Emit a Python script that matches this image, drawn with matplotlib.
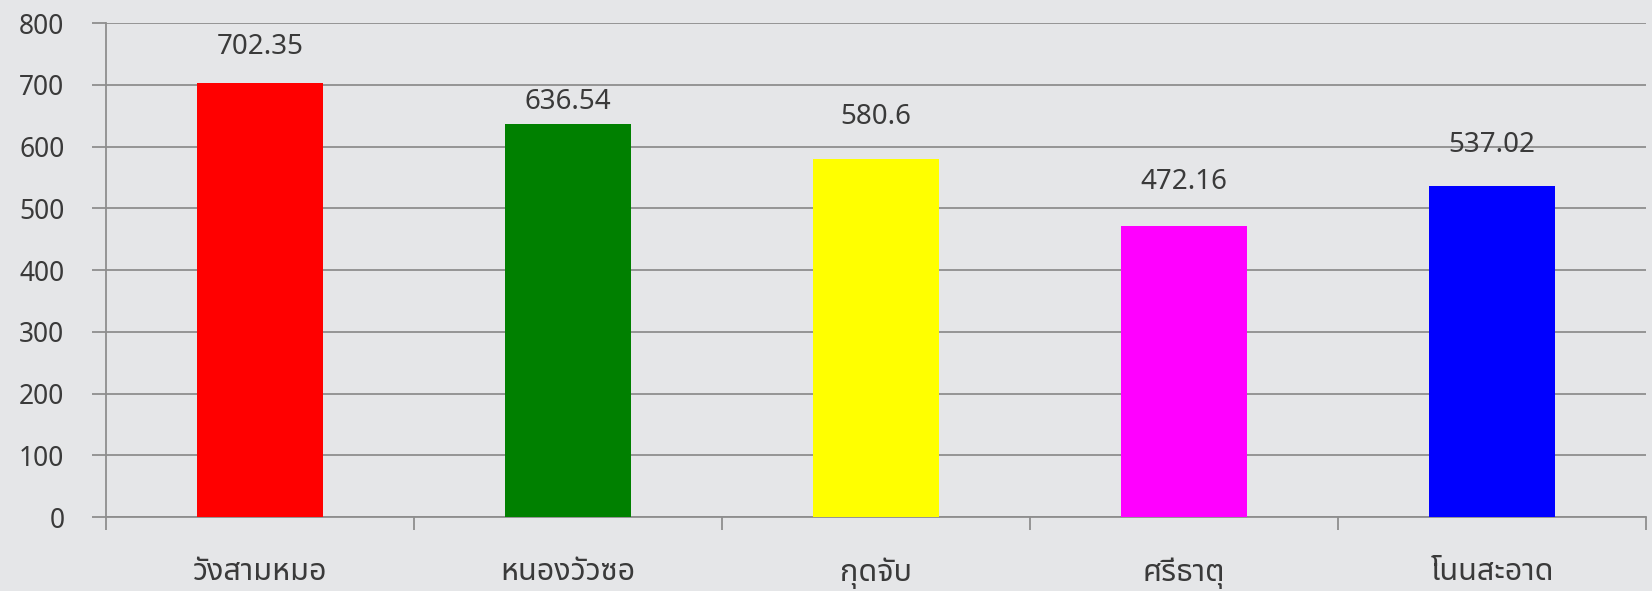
import matplotlib
matplotlib.use("Agg")
import matplotlib.pyplot as plt
import numpy as np

plt.rcParams["font.family"] = ["Noto Sans Thai", "DejaVu Sans"]

# data
districts = ["วังสามหมอ", "หนองวัวซอ", "กุดจับ", "ศรีธาตุ", "โนนสะอาด"]
values = [702.35, 636.54, 580.6, 472.16, 537.02]
bar_colors = ["#ff0000", "#008000", "#ffff00", "#ff00ff", "#0000ff"]
yticks = [0, 100, 200, 300, 400, 500, 600, 700, 800]

# label gap above each bar (points), the source placed them by hand
label_gaps = [26, 16, 30, 31, 29]

bg = "#e5e6e8"
grid_c = "#8e8e8e"
text_c = "#3a3a3a"

fig = plt.figure(figsize=(16.52, 5.91), dpi=100, facecolor=bg)
ax = fig.add_axes([0.0642, 0.1252, 0.9322, 0.8356])
ax.set_facecolor(bg)

x = np.arange(len(districts))
bars = ax.bar(x, values, width=0.41, color=bar_colors, zorder=3)

for b, v, g in zip(bars, values, label_gaps):
    ax.annotate(f"{v:g}", (b.get_x() + b.get_width() / 2, v),
                xytext=(0, g), textcoords="offset points",
                ha="center", va="center", fontsize=20, color=text_c)

ax.set_ylim(0, 800)
ax.set_xlim(-0.5, len(districts) - 0.5)
ax.set_yticks(yticks)
ax.yaxis.grid(True, color=grid_c, linewidth=1.3, zorder=0)
ax.tick_params(axis="y", length=10, width=1.3, color=grid_c, pad=20,
               labelsize=19, labelcolor=text_c)

ax.set_xticks(x)
ax.set_xticklabels(districts)
ax.set_xticks(np.arange(-0.5, len(districts)), minor=True)
ax.tick_params(axis="x", which="major", length=0, pad=29,
               labelsize=22, labelcolor=text_c)
ax.tick_params(axis="x", which="minor", length=9, width=1.3, color=grid_c)

for s in ["top", "right"]:
    ax.spines[s].set_visible(False)
for s in ["left", "bottom"]:
    ax.spines[s].set_color(grid_c)
    ax.spines[s].set_linewidth(1.3)

fig.savefig("out.png", facecolor=bg)
